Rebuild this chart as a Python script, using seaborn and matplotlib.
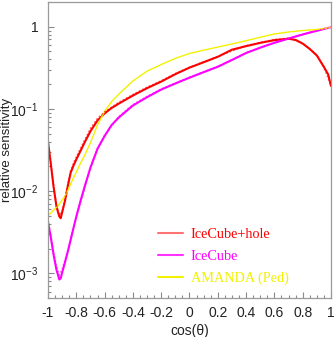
import numpy as np
import pandas as pd
import matplotlib
matplotlib.use("Agg")
import matplotlib.pyplot as plt
from matplotlib.lines import Line2D
from matplotlib.ticker import FixedLocator, FuncFormatter, LogLocator, NullFormatter, MultipleLocator
import seaborn as sns

# zenith-angle grid for the fitted curves
cos_theta = [-1.0, -0.98, -0.96, -0.94, -0.92, -0.91, -0.90, -0.88, -0.86, -0.84, -0.82,
             -0.80, -0.77, -0.74, -0.70, -0.65, -0.60, -0.55, -0.50, -0.40, -0.30, -0.20,
             -0.10, 0.0, 0.1, 0.2, 0.3, 0.4, 0.5, 0.6, 0.7, 0.75, 0.8, 0.85, 0.9, 0.95,
             0.98, 1.0]

icecube_hole = [0.0396, 0.0214, 0.0111, 0.00646, 0.0049, 0.00468, 0.0055, 0.0076, 0.0115,
                0.0167, 0.0204, 0.0243, 0.0309, 0.0394, 0.0535, 0.0724, 0.0881, 0.1028,
                0.116, 0.1455, 0.179, 0.215, 0.265, 0.318, 0.37, 0.431, 0.526, 0.581,
                0.637, 0.687, 0.715, 0.692, 0.624, 0.537, 0.447, 0.324, 0.263, 0.190]

icecube = [0.00424, 0.00272, 0.00166, 0.0011, 0.00084, 0.00087, 0.00102, 0.00136, 0.00184,
           0.00254, 0.00355, 0.00488, 0.00762, 0.0115, 0.0193, 0.0327, 0.0468, 0.0638,
           0.0785, 0.110, 0.139, 0.172, 0.204, 0.240, 0.28, 0.326, 0.394, 0.479, 0.557,
           0.638, 0.718, 0.762, 0.805, 0.851, 0.893, 0.94, 0.968, 0.986]

amanda = [0.00501, 0.00543, 0.00589, 0.00635, 0.00692, 0.00733, 0.00776, 0.0087, 0.0102,
          0.0122, 0.0145, 0.0170, 0.0219, 0.0275, 0.0389, 0.0638, 0.0933, 0.123, 0.151,
          0.219, 0.288, 0.347, 0.412, 0.473, 0.519, 0.566, 0.617, 0.676, 0.745, 0.817,
          0.863, 0.882, 0.90, 0.913, 0.927, 0.95, 0.97, 0.986]

# simulated points (drawn dotted on top of the fits)
cos_theta_sim = [-1.0, -0.98, -0.96, -0.94, -0.92, -0.90, -0.88, -0.86, -0.84, -0.82, -0.80,
                 -0.75, -0.70, -0.65, -0.60, -0.50, -0.40, -0.30, -0.20, -0.10, 0.0, 0.2,
                 0.4, 0.6, 0.7, 0.8, 0.9, 0.95, 1.0]

icecube_hole_sim = [0.042, 0.022, 0.0115, 0.0068, 0.0051, 0.0057, 0.0079, 0.0122, 0.0178,
                    0.0218, 0.026, 0.039, 0.058, 0.077, 0.092, 0.12, 0.15, 0.184, 0.22,
                    0.27, 0.322, 0.435, 0.59, 0.70, 0.725, 0.63, 0.45, 0.325, 0.19]

icecube_sim = [0.0044, 0.0029, 0.0018, 0.00122, 0.00095, 0.00112, 0.00145, 0.0019, 0.0026,
               0.0036, 0.0049, 0.0095, 0.0198, 0.0335, 0.048, 0.081, 0.113, 0.142, 0.175,
               0.207, 0.243, 0.33, 0.483, 0.64, 0.72, 0.806, 0.893, 0.94, 0.986]

labels = ["IceCube+hole", "IceCube", "AMANDA (Ped)"]
colors = ["#ff0000", "#ff00ff", "#f2f200"]
widths = [1.5, 1.5, 1.0]

sns.set_style("white")
plt.rcParams["font.family"] = ["Liberation Sans", "DejaVu Sans"]
plt.rcParams["mathtext.fontset"] = "custom"
plt.rcParams["mathtext.rm"] = "Liberation Sans"
plt.rcParams["mathtext.it"] = "Liberation Sans:italic"

fig = plt.figure(figsize=(3.34, 3.37), dpi=100)
ax = fig.add_axes([0.1437, 0.1157, 0.8473, 0.8783])

fits = pd.DataFrame({"cos": cos_theta, labels[0]: icecube_hole,
                     labels[1]: icecube, labels[2]: amanda})
sims = pd.DataFrame({"cos": cos_theta_sim, labels[0]: icecube_hole_sim,
                     labels[1]: icecube_sim})

for name, col, w in zip(labels, colors, widths):
    sns.lineplot(data=fits, x="cos", y=name, color=col, lw=w, ax=ax,
                 legend=False, sort=False)
for name, col in zip(labels[:2], colors[:2]):
    sns.lineplot(data=sims, x="cos", y=name, color=col, lw=1.1, ax=ax,
                 linestyle=(0, (1.2, 1.2)), alpha=0.6, legend=False, sort=False)

ax.set_yscale("log")
ax.set_xlim(-1, 1)
ax.set_ylim(5.0e-4, 2.0)

ax.xaxis.set_major_locator(MultipleLocator(0.2))
ax.xaxis.set_minor_locator(MultipleLocator(0.05))
ax.xaxis.set_major_formatter(FuncFormatter(lambda v, p: "%g" % round(v, 2)))

ax.yaxis.set_major_locator(FixedLocator([1e-3, 1e-2, 1e-1, 1.0]))
ax.yaxis.set_minor_locator(LogLocator(base=10, subs=np.arange(2, 10)))
ax.yaxis.set_minor_formatter(NullFormatter())


def ylab(v, pos):
    e = int(round(np.log10(v)))
    return "1" if e == 0 else r"$10^{%d}$" % e


ax.yaxis.set_major_formatter(FuncFormatter(ylab))

for s in ax.spines.values():
    s.set_color("#9a9a9a")
    s.set_linewidth(0.9)
ax.tick_params(which="both", direction="in", color="#8a8a8a", width=0.8,
               left=True, bottom=True, top=False, right=False)
ax.tick_params(which="major", length=4.5, labelsize=10, labelcolor="#222222")
ax.tick_params(axis="x", which="major", pad=6)
ax.tick_params(axis="y", which="major", pad=7)
ax.tick_params(which="minor", length=2.3)

ax.set_xlabel("cos(θ)", fontsize=10, color="#222222", va="center")
ax.xaxis.set_label_coords(0.5, -0.113)
ax.set_ylabel("relative sensitivity", fontsize=9.5, color="#222222", va="center")
ax.yaxis.set_label_coords(-0.146, 0.5)

handles = [Line2D([0], [0], color=c, lw=1.5, alpha=a)
           for c, a in zip(colors, [0.55, 0.8, 1.0])]
leg = ax.legend(handles, labels, loc="upper left", bbox_to_anchor=(0.37, 0.255),
                frameon=False, handlelength=1.75, handletextpad=0.5, labelspacing=0.6,
                borderaxespad=0.0, prop={"family": "Liberation Serif", "size": 10.3})
for t, c in zip(leg.get_texts(), colors):
    t.set_color(c)

fig.savefig("out.png", dpi=100)
